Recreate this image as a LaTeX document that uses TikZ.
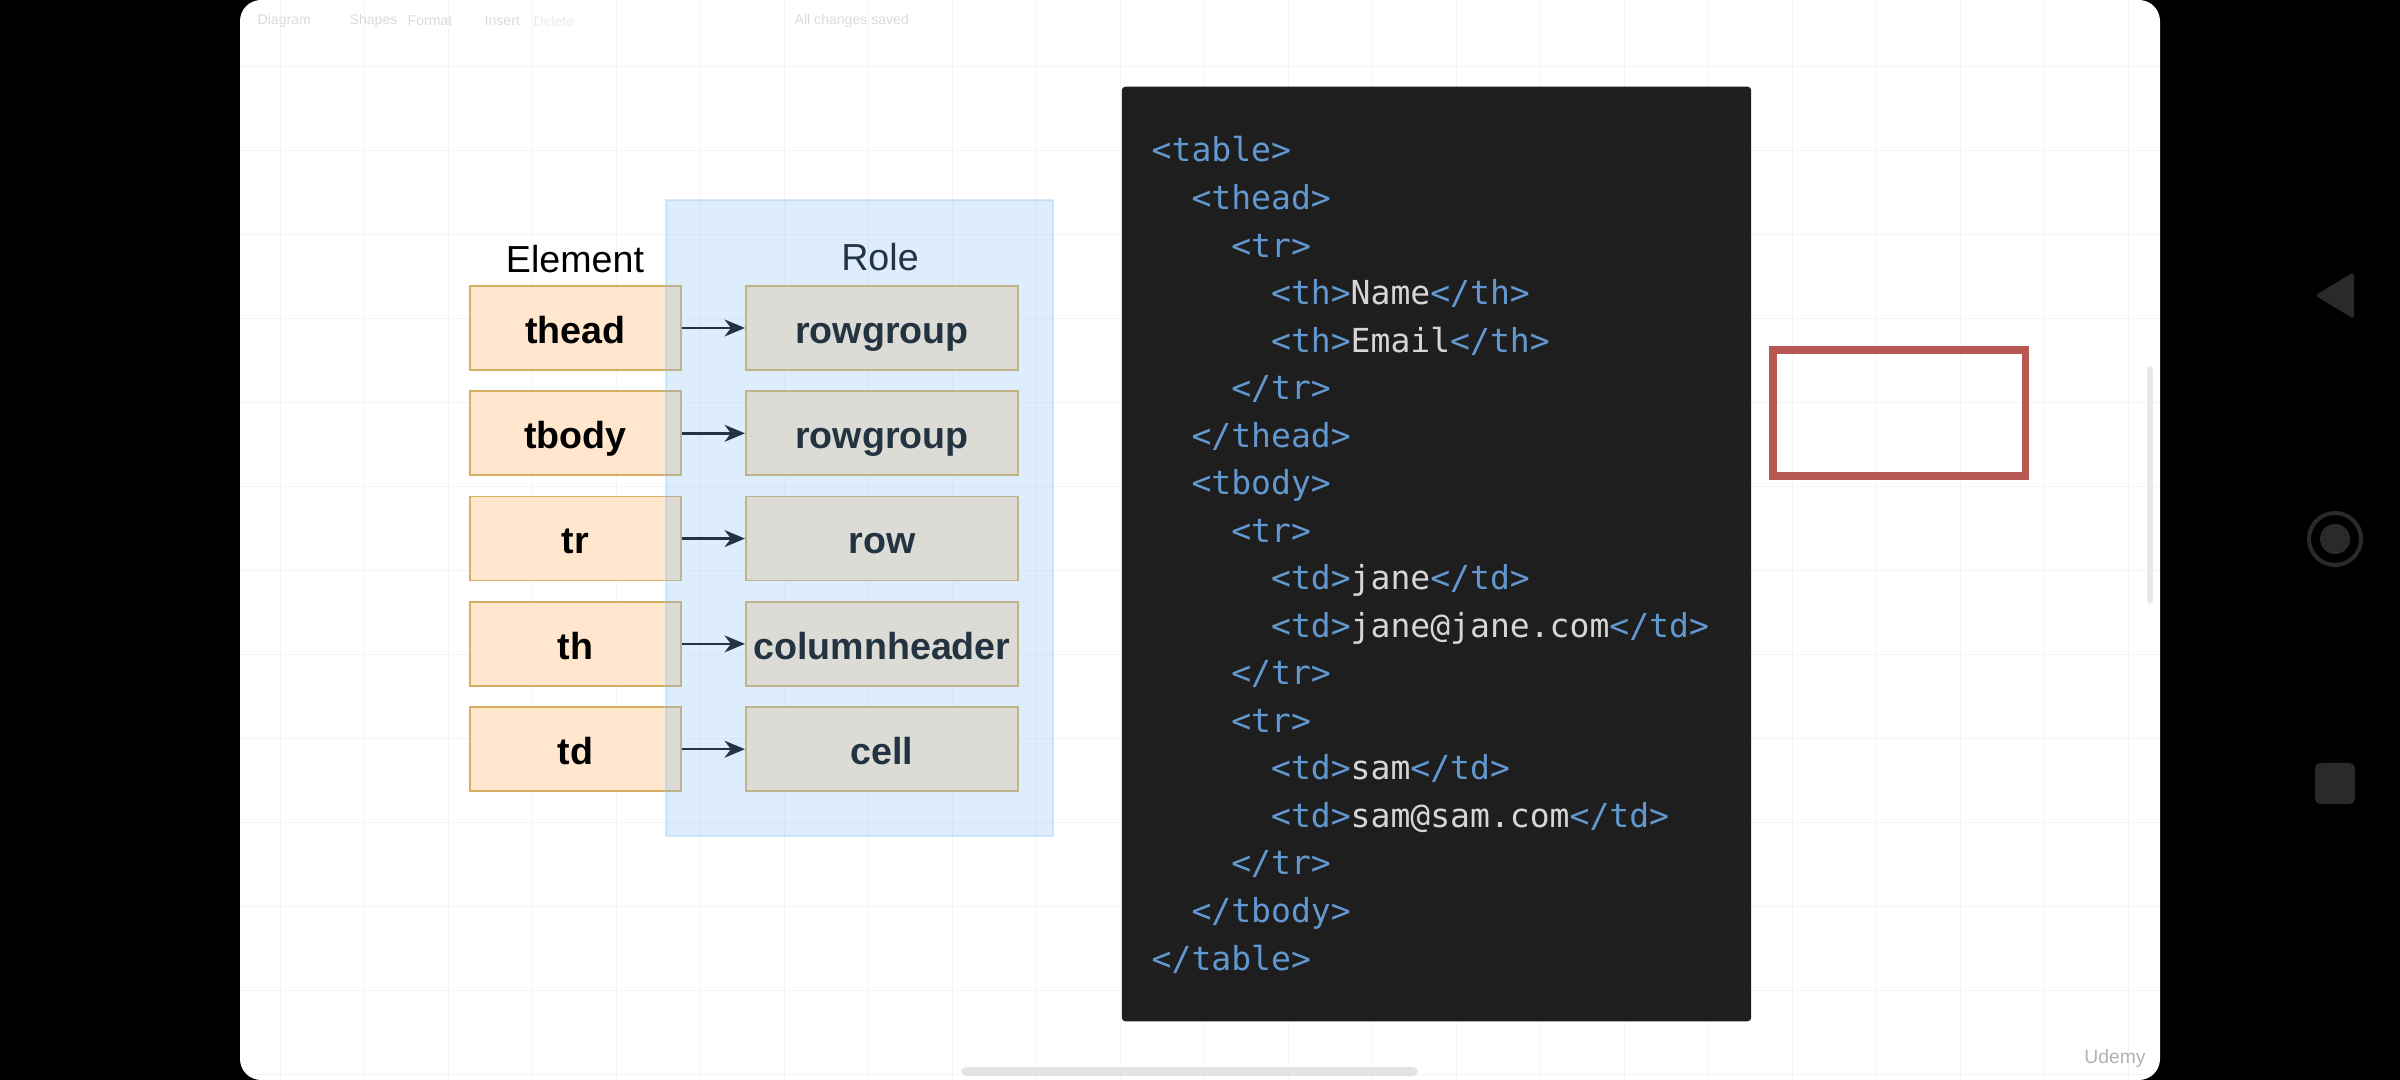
\documentclass[tikz,border=0pt]{standalone}
\usepackage{fontspec}
\setmainfont{Liberation Sans}
\newfontfamily\codefont{DejaVu Sans Mono}
\usetikzlibrary{positioning,arrows.meta}

\definecolor{boxfill}{HTML}{FFE6CC}
\definecolor{boxline}{RGB}{214,176,98}
\definecolor{roletint}{RGB}{130,192,244}
\definecolor{codebg}{HTML}{1E1E1E}
\definecolor{tagblue}{RGB}{98,152,208}
\definecolor{codetext}{RGB}{214,214,214}
\definecolor{alarm}{RGB}{184,88,82}
\definecolor{navgray}{RGB}{42,42,42}
\definecolor{gridline}{RGB}{244,244,244}
\newcommand{\cval}[1]{{\color{codetext}#1}}

\begin{document}
\begin{tikzpicture}[x=0.01cm,y=-0.01cm,
    elembox/.style={draw=boxline,fill=boxfill,line width=0.5pt,minimum width=2.11cm,
        minimum height=0.84cm,inner sep=0pt,text height=10pt,text depth=1.4pt,
        font=\fontsize{10.7}{13}\selectfont\bfseries},
    rolebox/.style={elembox,minimum width=2.72cm},
    colhead/.style={inner sep=0pt,font=\fontsize{10.7}{13}\selectfont},
    codeline/.style={anchor=base west,inner sep=0pt,text=tagblue,
        font=\codefont\fontsize{9.4}{11}\selectfont},
    flow/.style={-{Stealth[length=5.8pt,width=4.8pt,inset=1.8pt]},line width=0.7pt,black},
    toolbar/.style={anchor=west,inner sep=0pt,text=black!14,font=\fontsize{4}{5}\selectfont}]

% phone frame and canvas
\fill[black] (0,0) rectangle (2400,1080);
\useasboundingbox (0,0) rectangle (2400,1080);
\fill[white,rounded corners=6pt] (240,0) rectangle (2160,1080);
\begin{scope}
    \clip[rounded corners=6pt] (240,0) rectangle (2160,1080);
    \foreach \gx in {280.6,364.6,...,2130}
        \draw[gridline,line width=0.3pt] (\gx,0) -- (\gx,1080);
    \foreach \gy in {66.5,150.5,...,1080}
        \draw[gridline,line width=0.3pt] (240,\gy) -- (2160,\gy);
\end{scope}

% toolbar
\node[toolbar] (tdiagram) at (257,21) {Diagram};
\node[toolbar] (tshapes) at (349,21) {Shapes};
\node[toolbar] (tformat) at (407,21) {Format};
\node[toolbar] (tinsert) at (484,21) {Insert};
\node[toolbar,text=black!8] (tdelete) at (533,21) {Delete};
\node[toolbar] (tsaved) at (794,21) {All changes saved};

% element -> role
\node[colhead] (elemhead) at (575,259) {Element};
\node[colhead] (rolehead) at (880,257) {Role};
\foreach \el/\role [count=\i from 0] in {thead/rowgroup,tbody/rowgroup,tr/row,th/columnheader,td/cell}{
    \node[elembox] (e\i) at (575.5,{328+105.3*\i}) {\el};
    \node[rolebox,right=0.63cm of e\i] (r\i) {\role};
    \draw[flow] (e\i) -- (r\i);
}
\fill[roletint,fill opacity=0.27] (666,200) rectangle (1053,836);
\draw[roletint,opacity=0.3,line width=0.4pt] (666,200) rectangle (1053,836);

% markup
\node[fill=codebg,rounded corners=1pt,minimum width=6.29cm,minimum height=9.34cm,inner sep=0pt]
    (codebox) at (1436.5,554) {};
\foreach \ind/\code [count=\i from 0] in {
    0/{<table>},
    1/{<thead>},
    2/{<tr>},
    3/{<th>\cval{Name}</th>},
    3/{<th>\cval{Email}</th>},
    2/{</tr>},
    1/{</thead>},
    1/{<tbody>},
    2/{<tr>},
    3/{<td>\cval{jane}</td>},
    3/{<td>\cval{jane@jane.com}</td>},
    2/{</tr>},
    2/{<tr>},
    3/{<td>\cval{sam}</td>},
    3/{<td>\cval{sam@sam.com}</td>},
    2/{</tr>},
    1/{</tbody>},
    0/{</table>}}
    \node[codeline] (c\i) at ({1151+39.8*\ind},{162+47.53*\i}) {\code};

\node[draw=alarm,line width=2.15pt,minimum width=2.524cm,minimum height=1.264cm,inner sep=0pt]
    (redbox) at (1899,413) {};

% scroll bars, watermark
\fill[black!9,rounded corners=1pt] (2147,366) rectangle (2153,604);
\fill[black!11,rounded corners=1.5pt] (961,1067) rectangle (1418,1076);
\node[text=black!30,inner sep=0pt,font=\fontsize{5.5}{6}\selectfont] (udemy) at (2115,1058) {Udemy};

% navigation keys
\fill[navgray,rounded corners=1pt] (2315,295.5) -- (2354,272) -- (2354,319) -- cycle;
\draw[navgray,line width=1.15pt] (2335,539) circle (0.26cm);
\fill[navgray] (2335,539) circle (0.15cm);
\fill[navgray,rounded corners=1.5pt] (2315,763) rectangle (2355,804);
\end{tikzpicture}
\end{document}
